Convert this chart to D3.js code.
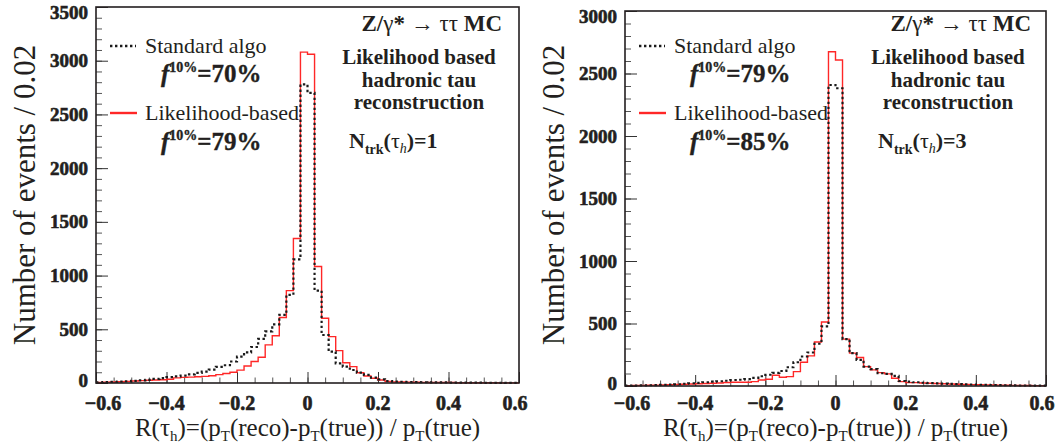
<!DOCTYPE html>
<html>
<head>
<meta charset="utf-8">
<script src="https://cdn.jsdelivr.net/npm/d3@7"></script>
<style>
  body { margin: 0; background: #fff; }
  svg { display: block; }
  text { font-family: 'Liberation Serif', 'Times New Roman', serif; fill: #231f20; }
  .tick-label { font-weight: bold; font-size: 20px; stroke: #231f20; stroke-width: 0.6px; }
  .heavy { stroke: #231f20; stroke-width: 0.35px; }
</style>
</head>
<body>
<svg id="chart" width="1060" height="446"></svg>
<script>
// R(tau_h) from -0.6 to 0.6 in bins of 0.02 (60 bins)
const xTicks = [-0.6, -0.4, -0.2, 0, 0.2, 0.4, 0.6];
const yTicks1prong = [0, 500, 1000, 1500, 2000, 2500, 3000, 3500];
const yTicks3prong = [0, 500, 1000, 1500, 2000, 2500, 3000];

// N_trk = 1
const stdAlgo1prong = [
  5, 8, 10, 12, 15, 20, 25, 30, 38, 45, 55, 62, 68, 80, 95, 105, 125, 150, 165, 200,
  245, 285, 335, 410, 480, 545, 635, 820, 1150, 2780,
  2700, 860, 447, 292, 183, 152, 121, 96, 75, 50, 34, 18, 12, 10, 9, 8, 7, 6, 5, 5,
  4, 4, 3, 3, 3, 2, 2, 2, 1, 1
];
const likAlgo1prong = [
  5, 8, 10, 12, 15, 18, 22, 25, 28, 30, 35, 48, 52, 55, 58, 62, 68, 78, 88, 100,
  120, 158, 200, 240, 355, 440, 610, 860, 1345, 3080,
  3060, 1085, 603, 432, 301, 189, 152, 96, 65, 44, 28, 14, 10, 9, 8, 7, 6, 5, 5, 4,
  4, 3, 3, 3, 2, 2, 2, 1, 1, 1
];

// N_trk = 3
const stdAlgo3prong = [
  3, 4, 5, 6, 7, 9, 11, 14, 18, 22, 25, 30, 35, 38, 42, 48, 50, 55, 65, 78,
  90, 105, 120, 150, 190, 236, 268, 338, 477, 2408,
  2382, 375, 263, 209, 155, 135, 102, 97, 81, 40, 35, 30, 26, 23, 21, 19, 17, 15, 13, 12,
  10, 9, 8, 7, 6, 5, 4, 4, 3, 3
];
const likAlgo3prong = [
  3, 4, 5, 6, 7, 8, 10, 12, 14, 16, 18, 20, 22, 24, 28, 30, 30, 30, 35, 48,
  54, 86, 70, 75, 115, 190, 241, 352, 512, 2674,
  2608, 375, 263, 228, 155, 129, 107, 97, 62, 35, 27, 27, 24, 22, 20, 18, 16, 14, 12, 11,
  10, 9, 8, 7, 6, 5, 4, 4, 3, 3
];

const legendLabels = ['Standard algo', 'Likelihood-based'];
const fraction1prong = ['=70%', '=79%'];
const fraction3prong = ['=79%', '=85%'];
const infoLines = ['Likelihood based', 'hadronic tau', 'reconstruction'];

class HistPanel {
  constructor(option) {
    this.option = option;
    this.svg = option.svg;
    this.draw();
  }

  draw() {
    const me = this;
    const o = me.option;
    const g = me.svg.append('g');
    const ink = '#231f20';

    const x = d3.scaleLinear().domain([-0.6, 0.6]).range([o.left, o.right]);
    const y = d3.scaleLinear().domain([0, o.ymax]).range([o.bottom, o.top]);
    const edges = d3.range(61).map(i => -0.6 + i * 0.02);

    // ticks (inside the frame, ROOT style)
    const tickAxis = (axis, transform, stroke) => {
      g.append('g')
        .attr('transform', transform)
        .call(axis.tickSizeOuter(0).tickFormat(''))
        .call(a => a.select('.domain').remove())
        .selectAll('line').attr('stroke', stroke);
    };
    tickAxis(d3.axisBottom(x).tickValues(d3.range(25).map(i => -0.6 + i * 0.05)).tickSizeInner(-5.5),
      `translate(0,${o.bottom})`, '#555');
    tickAxis(d3.axisLeft(y).tickValues(d3.range(0, o.ymax + 1, 100)).tickSizeInner(-6),
      `translate(${o.left},0)`, '#555');
    tickAxis(d3.axisBottom(x).tickValues(xTicks).tickSizeInner(-11),
      `translate(0,${o.bottom})`, '#333');
    tickAxis(d3.axisLeft(y).tickValues(o.yTicks).tickSizeInner(-12),
      `translate(${o.left},0)`, '#333');

    // tick labels
    g.selectAll('.xl').data(xTicks).enter().append('text')
      .attr('class', 'tick-label xl')
      .attr('x', d => x(d) + (d === -0.6 ? 7 : (d === 0.6 ? -4 : 0)))
      .attr('y', 410)
      .attr('text-anchor', 'middle')
      .text(d => d === 0 ? '0' : d3.format('.1f')(d));

    g.selectAll('.yl').data(o.yTicks).enter().append('text')
      .attr('class', 'tick-label yl')
      .attr('x', o.left - 8)
      .attr('y', d => y(d) + (d === o.ymax ? 12 : (d === 0 ? 4 : 6.5)))
      .attr('text-anchor', 'end')
      .style('font-size', '19px')
      .text(d => d);

    // histograms
    const step = d3.line().x(d => x(d[0])).y(d => y(d[1])).curve(d3.curveStepAfter);
    const pts = vals => edges.map((e, i) => [e, vals[Math.min(i, vals.length - 1)]]);

    g.append('path').attr('d', step(pts(o.lik)))
      .attr('fill', 'none').attr('stroke', '#ff2727').attr('stroke-width', 1.4);
    g.append('path').attr('d', step(pts(o.std)))
      .attr('fill', 'none').attr('stroke', '#1a1a1a').attr('stroke-width', 2.2)
      .attr('stroke-dasharray', '2.4,2.6');

    // frame
    g.append('rect')
      .attr('x', o.left).attr('y', o.top)
      .attr('width', o.right - o.left).attr('height', o.bottom - o.top)
      .attr('fill', 'none').attr('stroke', ink).attr('stroke-width', 1.6);

    // axis titles
    const xt = g.append('text')
      .attr('x', x(0)).attr('y', 436)
      .attr('text-anchor', 'middle')
      .style('font-size', '25px');
    xt.append('tspan').text('R(τ');
    xt.append('tspan').attr('dy', 5).style('font-size', '15px').text('h');
    xt.append('tspan').attr('dy', -5).text(')=(p');
    xt.append('tspan').attr('dy', 5).style('font-size', '15px').text('T');
    xt.append('tspan').attr('dy', -5).text('(reco)-p');
    xt.append('tspan').attr('dy', 5).style('font-size', '15px').text('T');
    xt.append('tspan').attr('dy', -5).text('(true)) / p');
    xt.append('tspan').attr('dy', 5).style('font-size', '15px').text('T');
    xt.append('tspan').attr('dy', -5).text('(true)');

    g.append('text')
      .attr('transform', `translate(${o.left - 61},195) rotate(-90)`)
      .attr('text-anchor', 'middle')
      .style('font-size', '31px')
      .text('Number of events / 0.02');

    // legend
    const lx = o.left + 14;
    g.append('line').attr('x1', lx).attr('x2', lx + 26).attr('y1', 46).attr('y2', 46)
      .attr('stroke', '#1a1a1a').attr('stroke-width', 2.4).attr('stroke-dasharray', '2.4,2.6');
    g.append('line').attr('x1', lx).attr('x2', lx + 27).attr('y1', 113).attr('y2', 113)
      .attr('stroke', '#ff2727').attr('stroke-width', 2.4);
    g.append('text').attr('x', lx + 35).attr('y', 53).style('font-size', '22px').text(legendLabels[0]);
    g.append('text').attr('x', lx + 35).attr('y', 120).style('font-size', '22px').text(legendLabels[1]);

    [[82, o.frac[0]], [150, o.frac[1]]].forEach(function (f) {
      const t = g.append('text').attr('class', 'heavy').attr('x', lx + 51).attr('y', f[0])
        .style('font-size', '25px').style('font-weight', 'bold');
      t.append('tspan').style('font-style', 'italic').text('f');
      t.append('tspan').attr('dy', -10).style('font-size', '14px').text('10%');
      t.append('tspan').attr('dy', 10).text(f[1]);
    });

    // process label
    const pt = g.append('text')
      .attr('x', o.left + 406).attr('y', 31)
      .attr('text-anchor', 'end')
      .style('font-size', '23px').style('font-weight', 'bold');
    pt.append('tspan').text('Z/');
    pt.append('tspan').style('font-weight', 'normal').text('γ');
    pt.append('tspan').text('* ');
    pt.append('tspan').style('font-weight', 'normal').text('→ ττ');
    pt.append('tspan').text(' MC');

    g.selectAll('.info').data(infoLines).enter().append('text')
      .attr('class', 'info')
      .attr('x', o.left + 323).attr('y', (d, i) => 64 + i * 22.5)
      .attr('text-anchor', 'middle')
      .style('font-size', '21px').style('font-weight', 'bold')
      .text(d => d);

    const nt = g.append('text')
      .attr('x', o.left + 253).attr('y', 148)
      .style('font-size', '22px').style('font-weight', 'bold');
    nt.append('tspan').text('N');
    nt.append('tspan').attr('dy', 6).style('font-size', '14px').text('trk');
    nt.append('tspan').attr('dy', -6).text('(');
    nt.append('tspan').style('font-weight', 'normal').text('τ');
    nt.append('tspan').attr('dy', 5).style('font-size', '14px').style('font-style', 'italic').style('font-weight', 'normal').text('h');
    nt.append('tspan').attr('dy', -5).text(')=' + o.ntrk);
  }
}

const svg = d3.select('#chart');

new HistPanel({
  svg: svg, left: 96, right: 519, top: 7, bottom: 383, ymax: 3500,
  yTicks: yTicks1prong, std: stdAlgo1prong, lik: likAlgo1prong,
  frac: fraction1prong, ntrk: 1
});

new HistPanel({
  svg: svg, left: 625, right: 1046, top: 11, bottom: 386, ymax: 3000,
  yTicks: yTicks3prong, std: stdAlgo3prong, lik: likAlgo3prong,
  frac: fraction3prong, ntrk: 3
});
</script>
</body>
</html>
